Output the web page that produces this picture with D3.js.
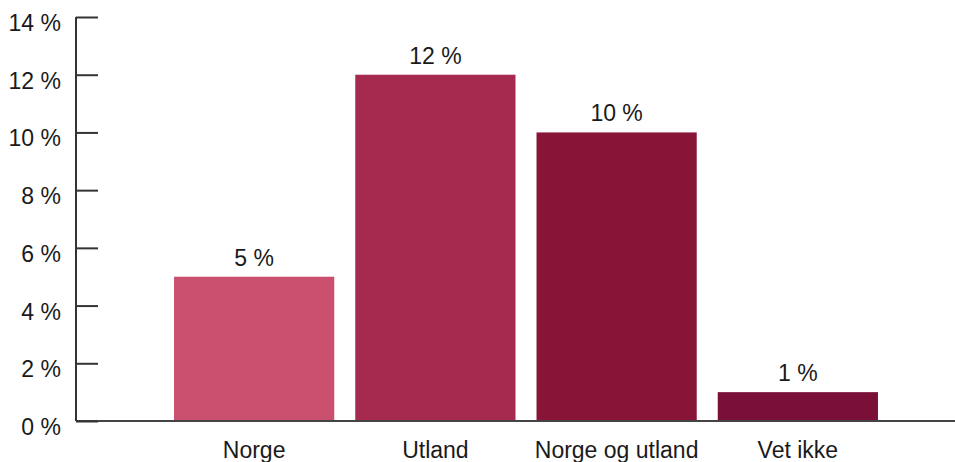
<!DOCTYPE html>
<html>
<head>
<meta charset="utf-8">
<script src="https://cdn.jsdelivr.net/npm/d3@7"></script>
<style>
  body { margin: 0; background: #fff; }
  text { font-family: "Liberation Sans", Arial, sans-serif; fill: #1a1a1a; }
</style>
</head>
<body>
<div id="chart"></div>
<script>
var categories = ["Norge", "Utland", "Norge og utland", "Vet ikke"]
var values = [5, 12, 10, 1]
var colors = ["#cb4f6f", "#a62950", "#881537", "#7a1038"]
var yTicks = [0, 2, 4, 6, 8, 10, 12, 14]

var width = 955, height = 462

var svg = d3.select("#chart").append("svg")
    .attr("width", width)
    .attr("height", height)

var y = d3.scaleLinear().domain([0, 14]).range([421, 17])
var x = d3.scaleBand().domain(categories)
    .range([97, 955])
    .paddingInner(0.116)
    .paddingOuter(0.425)

// bars
svg.selectAll(".bar")
    .data(values)
    .enter().append("rect")
    .attr("class", "bar")
    .attr("x", function(d, i) { return x(categories[i]) })
    .attr("width", x.bandwidth())
    .attr("y", function(d) { return y(d) })
    .attr("height", function(d) { return y(0) - y(d) })
    .attr("fill", function(d, i) { return colors[i] })

// value labels
svg.selectAll(".val")
    .data(values)
    .enter().append("text")
    .attr("class", "val")
    .attr("x", function(d, i) { return x(categories[i]) + x.bandwidth() / 2 })
    .attr("y", function(d) { return y(d) - 11 })
    .attr("text-anchor", "middle")
    .style("font-size", "23px")
    .text(function(d) { return d + " %" })

// x axis baseline
svg.append("line")
    .attr("x1", 76).attr("x2", 955)
    .attr("y1", y(0)).attr("y2", y(0))
    .attr("stroke", "#444").attr("stroke-width", 2)

// y axis with ticks pointing right
var yAxis = svg.append("g").attr("transform", "translate(76,0)")
    .call(d3.axisRight(y).tickValues(yTicks).tickSize(22).tickFormat(""))
yAxis.select(".domain").attr("stroke", "#333").attr("stroke-width", 2)
    .attr("d", "M0," + y(0) + "V" + y(14))
yAxis.selectAll(".tick line").attr("stroke", "#333").attr("stroke-width", 2)

svg.selectAll(".ylab")
    .data(yTicks)
    .enter().append("text")
    .attr("class", "ylab")
    .attr("x", 61)
    .attr("y", function(d) { return y(d) + 14 })
    .attr("text-anchor", "end")
    .style("font-size", "23px")
    .text(function(d) { return d + " %" })

// category labels
svg.selectAll(".xlab")
    .data(categories)
    .enter().append("text")
    .attr("class", "xlab")
    .attr("x", function(d) { return x(d) + x.bandwidth() / 2 })
    .attr("y", 458)
    .attr("text-anchor", "middle")
    .style("font-size", "23px")
    .text(function(d) { return d })
</script>
</body>
</html>
